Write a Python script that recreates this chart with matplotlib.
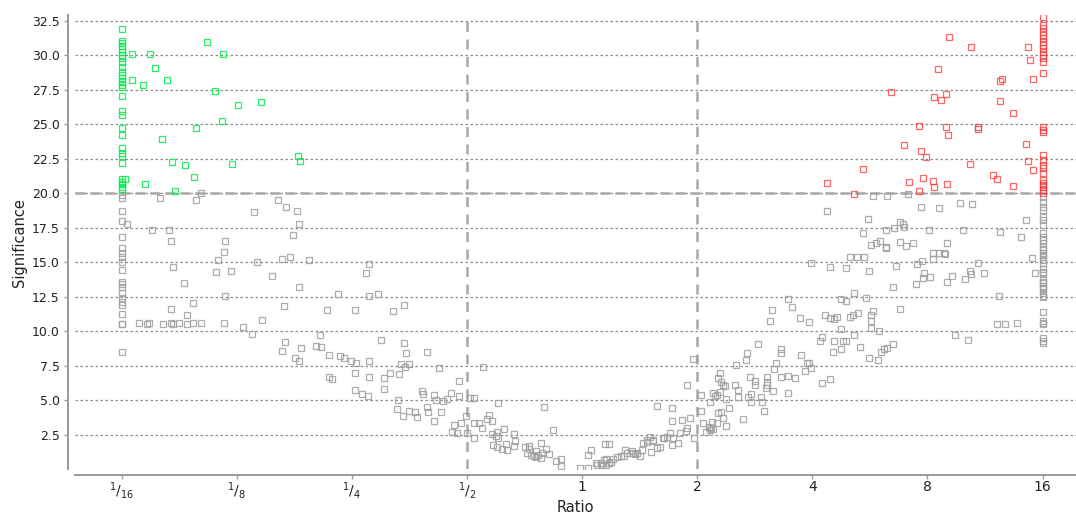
import matplotlib
matplotlib.use("Agg")
import matplotlib.pyplot as plt

# ---- data (x = log2 ratio, y = significance) ----
green_x = [-4.0]*30 + [-3.97, -3.91, -3.75, -3.71, -3.91, -3.81, -3.61, -3.26, -3.12, -3.19, -2.99, -2.79,
                       -3.13, -3.35, -3.65, -3.56, -3.45, -3.04, -3.37, -3.80, -3.54, -2.47, -2.45]
green_y = [31.9, 31.06, 30.87, 30.67, 30.46, 30.26, 30.02, 29.78, 29.54, 29.18, 28.81, 28.57, 28.33,
           28.09, 27.85, 27.68, 27.07, 25.96, 25.67, 24.75, 24.22, 23.3, 22.94, 22.7, 22.22, 21.0,
           20.84, 20.65, 20.48, 20.29,
           21.0, 30.09, 30.09, 29.06, 28.21, 27.83, 28.21, 30.96, 30.09, 27.44, 26.42, 26.59,
           25.26, 24.71, 23.96, 22.25, 22.05, 22.15, 21.2, 20.65, 20.17, 22.73, 22.34]

red_col_y = [32.8, 32.2, 31.96, 31.71, 31.47, 31.23, 30.99, 30.75, 30.51, 30.26, 30.02, 29.78, 29.54,
             28.7, 24.83, 24.59, 24.47, 22.78, 22.41, 22.05, 21.81, 21.49, 20.96, 20.77, 20.6,
             20.43, 20.24, 20.04]
red_x = [4.0]*len(red_col_y) + [3.19, 3.38, 3.87, 3.89, 3.92, 3.09, 3.63, 3.65, 2.68, 3.06, 3.12, 3.16,
                                3.63, 3.74, 2.93, 3.16, 3.44, 3.44, 3.18, 2.80, 2.94, 2.99, 3.86, 3.87,
                                3.92, 3.37, 2.44, 2.13, 2.84, 2.96, 3.05, 3.06, 3.17, 2.93, 2.36, 3.57,
                                3.60, 3.74]
red_y = red_col_y + [31.35, 30.6, 30.6, 29.64, 28.3, 28.99, 28.14, 28.3, 27.36, 26.98, 26.78, 27.17,
                     26.71, 25.84, 24.9, 24.8, 24.8, 24.68, 24.22, 23.48, 23.09, 22.63, 23.57, 22.34,
                     21.69, 22.15, 21.76, 20.72, 20.82, 21.11, 20.91, 20.46, 20.65, 20.17, 19.97,
                     21.3, 21.01, 20.55]

gray_left_col_y = [19.88, 19.64, 18.74, 18.01, 16.86, 16.01, 15.65, 15.41, 15.04, 14.44, 13.6, 13.43,
                   13.23, 12.75, 12.39, 12.14, 11.9, 11.23, 10.55, 10.5, 8.52]
gray_right_col_y = [19.75, 19.39, 18.99, 18.79, 18.3, 18.07, 17.7, 17.15, 16.86, 16.62, 16.38, 16.13,
                    15.89, 15.7, 15.53, 15.36, 15.17, 14.97, 14.49, 14.32, 14.25, 13.72, 13.6, 13.48,
                    13.28, 13.12, 13.04, 12.8, 12.56, 12.46, 11.42, 10.75, 10.62, 10.53, 9.49, 9.32, 9.17]

gray_pts = [
    # left scatter
    (-3.95, 17.78), (-3.67, 19.68), (-3.35, 19.51), (-3.31, 20.0), (-2.85, 18.67), (-3.74, 17.34),
    (-3.59, 17.34), (-3.57, 16.57), (-3.10, 16.57), (-3.11, 15.72), (-3.16, 15.14), (-2.82, 15.02),
    (-3.55, 14.68), (-3.18, 14.27), (-3.05, 14.39), (-3.46, 13.52), (-3.10, 12.58), (-3.38, 12.03),
    (-3.57, 11.64), (-3.43, 11.18), (-3.85, 10.6), (-3.78, 10.55), (-3.76, 10.6), (-3.64, 10.55),
    (-3.57, 10.6), (-3.55, 10.55), (-3.50, 10.6), (-3.43, 10.55), (-3.38, 10.6), (-3.31, 10.6),
    (-3.11, 10.6), (-2.95, 10.31), (-2.87, 9.83), (-2.78, 10.8),
    (-2.64, 19.5), (-2.57, 19.03), (-2.48, 18.74), (-2.46, 17.8), (-2.51, 16.96), (-2.61, 15.27),
    (-2.54, 15.41), (-2.37, 15.17), (-2.69, 14.01), (-2.46, 13.23), (-2.59, 11.83), (-2.12, 12.68),
    (-2.22, 11.54), (-1.97, 11.54), (-2.28, 9.73), (-2.58, 9.25), (-2.61, 8.6), (-2.44, 8.79),
    (-2.31, 8.96), (-2.27, 8.88), (-2.49, 8.04), (-2.46, 7.85), (-2.20, 8.31), (-2.10, 8.21),
    (-2.07, 8.04), (-2.01, 7.85), (-1.96, 7.68), (-1.97, 7.0), (-2.20, 6.71), (-2.17, 6.52),
    (-1.97, 5.77),
    (-1.85, 14.88), (-1.88, 14.2), (-1.85, 12.58), (-1.77, 12.7), (-1.64, 11.45), (-1.55, 11.93),
    (-1.75, 9.37), (-1.55, 9.17), (-1.85, 7.85), (-1.53, 8.41), (-1.35, 8.5), (-1.57, 7.65),
    (-1.54, 7.44), (-1.50, 7.65), (-1.24, 7.36), (-1.85, 6.71), (-1.72, 6.62), (-1.67, 7.0),
    (-1.59, 6.88), (-1.72, 5.84), (-1.91, 5.48), (-1.86, 5.29), (-1.60, 5.02), (-1.61, 4.35),
    (-1.56, 3.88), (-1.50, 4.25), (-1.45, 4.15), (-1.43, 3.77), (-1.39, 5.65), (-1.38, 5.46),
    (-1.35, 4.54), (-1.34, 4.15), (-1.29, 5.41), (-1.27, 5.0), (-1.21, 4.93), (-1.17, 5.12),
    (-1.14, 5.55), (-1.23, 4.15), (-1.29, 3.5), (-1.11, 3.21), (-1.07, 6.42),
    # centre left
    (-1.07, 5.31), (-0.86, 7.39), (-0.97, 5.14), (-0.94, 5.14), (-1.01, 3.89), (-1.13, 2.72),
    (-1.09, 2.65), (-1.05, 3.33), (-1.0, 2.61), (-0.94, 2.25), (-0.94, 3.33), (-0.90, 3.38),
    (-0.83, 3.62), (-0.81, 3.93), (-0.78, 3.52), (-0.87, 2.97), (-0.78, 2.56), (-0.74, 2.72),
    (-0.73, 2.25), (-0.77, 1.76), (-0.74, 1.63), (-0.70, 1.47), (-0.65, 1.4), (-0.68, 2.92),
    (-0.59, 2.56), (-0.58, 2.07), (-0.59, 1.69), (-0.50, 1.59), (-0.46, 1.49), (-0.48, 1.2),
    (-0.44, 1.04), (-0.40, 0.91), (-0.38, 1.04), (-0.36, 0.8), (-0.35, 1.16), (-0.31, 1.49),
    (-0.29, 1.11), (-0.36, 1.88), (-0.33, 4.54), (-0.25, 2.83), (-0.23, 0.62), (-0.18, 0.72),
    (-0.18, 0.24), (-0.02, 0.07), (0.05, 0.07), (0.05, 1.01), (0.08, 1.4), (-0.73, 4.83),
    (-0.75, 2.4), (-0.66, 1.8), (-0.46, 1.7), (-0.40, 1.3), (-0.42, 0.95),
    # centre right
    (0.13, 0.31), (0.16, 0.43), (0.19, 0.67), (0.21, 0.31), (0.23, 0.48), (0.21, 0.72), (0.20, 1.83),
    (0.23, 1.83), (0.27, 0.72), (0.30, 0.91), (0.34, 0.96), (0.37, 1.4), (0.39, 1.16), (0.43, 1.33),
    (0.48, 1.16), (0.52, 1.4), (0.53, 1.88), (0.56, 2.0), (0.59, 2.36), (0.62, 2.12), (0.65, 1.52),
    (0.68, 1.64), (0.65, 4.61), (0.71, 2.25), (0.74, 2.36), (0.76, 2.65), (0.79, 2.25), (0.78, 1.76),
    (0.78, 3.52), (0.78, 4.42), (0.87, 3.57), (0.91, 2.97), (0.94, 3.7), (0.97, 2.25), (0.91, 6.13),
    (0.96, 8.02), (1.03, 5.38), (1.03, 4.25), (1.05, 3.33), (1.08, 2.72), (1.11, 2.85), (1.11, 4.9),
    (1.14, 5.51), (1.17, 3.33), (1.18, 4.06), (1.18, 6.59),
    (0.12, 0.45), (0.17, 0.3), (0.25, 0.5), (0.36, 0.95), (0.44, 1.2), (0.50, 0.95), (0.56, 2.15),
    (0.62, 2.05), (0.70, 2.3), (0.83, 1.9), (0.85, 2.6), (0.90, 2.8), (0.46, 1.1), (0.60, 1.25),
    (1.15, 5.31), (1.17, 5.38), (1.10, 3.09), (1.12, 2.97), (1.14, 2.9), (1.13, 3.45),
    # right scatter
    (1.22, 6.11), (1.22, 3.7), (1.25, 3.14), (1.28, 4.44), (1.33, 6.13), (1.34, 7.56), (1.42, 7.92),
    (1.43, 8.41), (1.53, 9.08), (1.50, 6.42), (1.50, 6.13), (1.44, 5.24), (1.47, 5.46), (1.47, 4.9),
    (1.55, 5.26), (1.56, 4.9), (1.58, 4.25), (1.61, 6.71), (1.61, 6.35), (1.61, 6.11), (1.60, 5.87),
    (1.66, 5.67), (1.67, 7.25), (1.68, 7.68), (1.73, 6.71), (1.73, 8.74), (1.73, 8.41), (1.79, 6.78),
    (1.85, 6.62), (1.79, 5.55), (1.90, 8.3), (1.94, 7.12), (1.95, 7.68), (1.97, 7.68), (1.99, 7.32),
    (1.99, 14.97), (2.08, 9.57), (2.08, 6.28), (2.07, 9.27), (2.15, 6.54), (2.18, 8.52), (2.19, 9.27),
    (2.25, 8.7), (2.25, 10.19), (2.27, 9.27), (2.29, 9.27), (2.36, 9.73), (2.41, 8.88), (2.49, 8.04),
    (2.57, 7.92), (2.60, 8.52), (2.62, 8.74), (2.65, 8.81), (2.70, 9.08), (2.73, 14.73), (2.29, 14.57),
    (2.33, 15.41), (2.39, 15.36), (2.45, 15.36), (2.49, 14.39), (2.36, 12.75), (2.29, 12.22),
    (2.25, 12.32), (2.47, 12.39), (2.15, 10.94), (2.11, 11.16), (2.21, 11.06), (2.19, 10.87),
    (2.33, 11.06), (2.35, 11.18), (2.40, 11.35), (2.51, 11.2), (2.51, 10.77), (2.53, 11.45),
    (2.58, 10.02), (2.51, 10.24), (2.70, 13.23), (2.76, 11.62), (2.91, 14.88), (2.95, 15.12),
    (2.97, 14.25), (2.96, 13.84), (2.90, 13.43), (3.02, 13.91), (3.05, 15.65), (3.10, 15.7),
    (3.15, 15.6), (3.05, 15.22), (3.17, 13.57), (3.21, 14.0), (3.24, 9.73), (3.33, 13.81),
    (3.37, 14.39), (3.38, 14.13), (3.35, 9.37), (3.44, 14.97), (3.49, 14.2), (3.62, 12.56),
    (3.60, 10.51), (3.67, 10.51), (3.78, 10.62), (3.91, 15.33), (3.93, 14.2), (1.79, 12.32),
    (1.82, 11.74), (1.89, 10.99), (1.97, 10.7), (1.63, 10.77), (1.65, 11.54), (1.40, 3.67),
    (1.20, 7.0), (1.21, 6.35), (1.24, 6.04), (1.20, 5.62), (1.21, 4.13), (1.25, 5.09), (1.35, 5.77),
    (1.35, 5.24), (1.46, 6.71),
    # right upper
    (2.13, 18.74), (2.53, 19.8), (2.65, 19.8), (2.48, 18.16), (2.44, 17.14), (2.51, 16.28),
    (2.55, 16.38), (2.59, 16.57), (2.64, 16.13), (2.64, 16.06), (2.64, 17.34), (2.71, 17.51),
    (2.76, 17.9), (2.79, 17.75), (2.80, 17.58), (2.76, 16.47), (2.81, 16.18), (2.15, 14.66),
    (2.83, 19.95), (2.94, 19.03), (3.10, 18.93), (3.28, 19.32), (3.39, 19.22), (3.86, 18.07),
    (3.01, 17.34), (3.31, 17.34), (3.63, 17.22), (3.81, 16.86), (2.87, 16.38), (3.17, 16.38),
    (3.14, 15.65),
]
gray_x = [-4.0]*len(gray_left_col_y) + [4.0]*len(gray_right_col_y) + [p[0] for p in gray_pts]
gray_y = gray_left_col_y + gray_right_col_y + [p[1] for p in gray_pts]

xtick_pos = [-4, -3, -2, -1, 0, 1, 2, 3, 4]
xtick_labels = [r'$^{1}/_{16}$', r'$^{1}/_{8}$', r'$^{1}/_{4}$', r'$^{1}/_{2}$', '1', '2', '4', '8', '16']
ytick_pos = [2.5, 5.0, 7.5, 10.0, 12.5, 15.0, 17.5, 20.0, 22.5, 25.0, 27.5, 30.0, 32.5]
fold_threshold = [-1, 1]
sig_threshold = 20.0

# ---- figure ----
plt.rcParams['font.family'] = ['DejaVu Sans']
plt.rcParams['mathtext.fontset'] = 'dejavusans'
fig = plt.figure(figsize=(10.76, 5.15), dpi=100)
ax = fig.add_axes([75/1076, 1 - 469.3/515, 1001/1076, (469.3 - 15)/515])
ax.set_xlim(-4.405, 4.29)
ax.set_ylim(0, 32.92)

for y in ytick_pos:
    ax.axhline(y, color='#8c8c8c', lw=0.9, ls=(0, (2, 2)), zorder=1)
for xv in fold_threshold:
    ax.axvline(xv, color='#a8a8a8', lw=1.8, ls=(0, (4, 3)), zorder=2)
ax.axhline(sig_threshold, color='#a8a8a8', lw=1.8, ls=(0, (4, 2)), zorder=2)

mk = dict(marker='s', ls='none', markersize=5, mfc='none', mew=0.9, zorder=3)
ax.plot(gray_x, gray_y, mec=(0.62, 0.62, 0.62, 0.85), **mk)
ax.plot(green_x, green_y, mec=(0.0, 0.93, 0.3, 0.85), **mk)
ax.plot(red_x, red_y, mec=(1.0, 0.2, 0.2, 0.75), **mk)

for s in ['top', 'right']:
    ax.spines[s].set_visible(False)
ax.spines['left'].set_position(('outward', 5))
ax.spines['bottom'].set_position(('outward', 4))
for s in ['left', 'bottom']:
    ax.spines[s].set_color('#9a9a9a')
    ax.spines[s].set_linewidth(1.4)

ax.set_xticks(xtick_pos)
ax.set_xticklabels(xtick_labels, fontsize=10)
ax.set_yticks(ytick_pos)
ax.set_yticklabels([f'{v:.1f}' for v in ytick_pos], fontsize=9)
ax.tick_params(axis='both', colors='#9a9a9a', length=3, width=1, labelcolor='#222222')
ax.tick_params(axis='x', pad=1)
ax.tick_params(axis='y', pad=3)

ax.set_xlabel('Ratio', fontsize=10.5, color='#222222')
ax.set_ylabel('Significance', fontsize=10.5, color='#222222')
ax.xaxis.set_label_coords(0.5, (469.3 - 500) / 454.3)
ax.yaxis.set_label_coords((27 - 75) / 1001, 0.5)

fig.savefig('out.png', dpi=100)
